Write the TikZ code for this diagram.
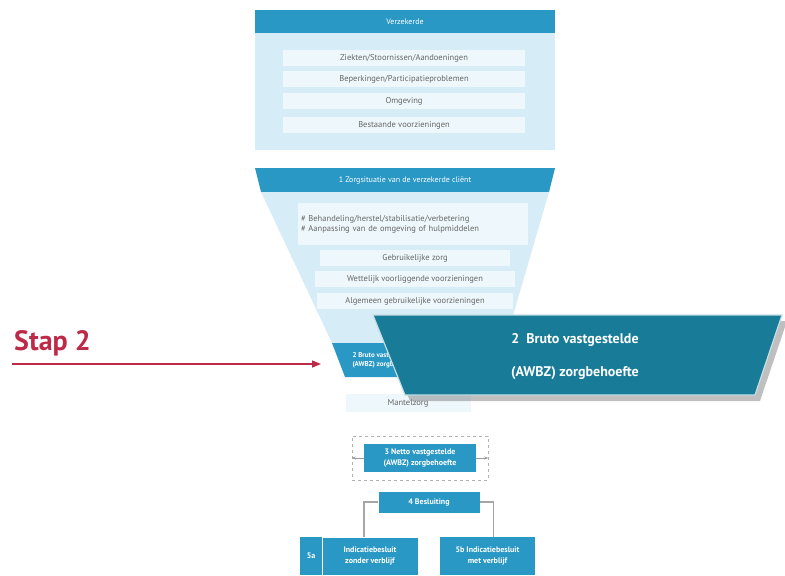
\documentclass[tikz,border=0pt]{standalone}
\usepackage{fontspec}
\setmainfont{PT Sans}
\usetikzlibrary{arrows.meta,shadows,positioning}
\definecolor{kop}{RGB}{42,152,196}
\definecolor{donker}{RGB}{24,124,152}
\definecolor{licht}{RGB}{214,236,246}
\definecolor{rij}{RGB}{238,248,252}
\definecolor{stapkleur}{RGB}{188,42,72}

\tikzset{
  kopbalk/.style={fill=kop, text=white, inner sep=0pt, font=\fontsize{8}{9}\selectfont},
  rijbox/.style={fill=rij, inner sep=0pt, minimum height=16pt, text=black!60, font=\fontsize{8.5}{10}\selectfont},
  blok/.style={fill=kop, text=white, inner sep=0pt, align=center, font=\fontsize{8}{11}\selectfont\bfseries},
  lijn/.style={draw=black!35, line width=1.2pt},
  stappijl/.style={draw=stapkleur, line width=1.4pt, -{Triangle[length=9pt,width=7pt]}},
}

\begin{document}
\begin{tikzpicture}[x=1pt,y=-1pt]
  \useasboundingbox (0,0) rectangle (785,576);

  % Verzekerde
  \node[kopbalk, minimum width=300pt, minimum height=23pt] (verzekerde) at (405,21.5) {Verzekerde};
  \fill[licht] (255,33) rectangle (555,150);
  \node[rijbox, minimum width=242pt] (ziekte) at (404,58) {Ziekten/Stoornissen/Aandoeningen};
  \node[rijbox, minimum width=242pt] (beperking) at (404,79) {Beperkingen/Participatieproblemen};
  \node[rijbox, minimum width=242pt] (omgeving) at (404,101) {Omgeving};
  \node[rijbox, minimum width=242pt] (bestaand) at (404,125) {Bestaande voorzieningen};

  % trechter (stap 1)
  \fill[kop] (255,168) -- (555,168) -- (549,192) -- (261,192) -- cycle;
  \node[text=white, font=\fontsize{8}{9}\selectfont] (zorgsituatie) at (405,180) {1 Zorgsituatie van de verzekerde cliënt};
  \fill[licht] (261,192) -- (549,192) -- (505,343) -- (332,343) -- cycle;
  \node[rijbox, align=left, minimum width=230pt, minimum height=42pt, text width=224pt] (behandeling) at (413,224)
    {\# Behandeling/herstel/stabilisatie/verbetering\\\# Aanpassing van de omgeving of hulpmiddelen};
  \node[rijbox, minimum width=190pt] (gebruikelijk) at (415,258) {Gebruikelijke zorg};
  \node[rijbox, minimum width=200pt] (wettelijk) at (415,279) {Wettelijk voorliggende voorzieningen};
  \node[rijbox, minimum width=196pt] (algemeen) at (415,301) {Algemeen gebruikelijke voorzieningen};

  % stap 2 (klein, achter de vergroting)
  \fill[kop] (332,343) -- (478,343) -- (465,377) -- (345,377) -- cycle;
  \node[text=white, anchor=west, font=\fontsize{7}{9}\selectfont\bfseries, align=left] (brutoklein) at (349,360)
    {2 Bruto vastgestelde\\(AWBZ) zorgbehoefte};

  % mantelzorg
  \node[rijbox, minimum width=125pt, minimum height=18pt] (mantelzorg) at (408,403) {Mantelzorg};

  % stap 2 vergroot
  \fill[donker, draw=white!75!donker, line width=1.2pt,
        drop shadow={shadow xshift=5pt, shadow yshift=-6pt, opacity=0.5}]
    (373,315) -- (782,315) -- (755,395) -- (405,395) -- cycle;
  \node[text=white, align=center, font=\fontsize{14}{33}\selectfont\bfseries] (bruto) at (575,357)
    {2\ \ Bruto vastgestelde\\(AWBZ) zorgbehoefte};

  % Stap 2 met pijl
  \node[text=stapkleur, anchor=south west, inner sep=0pt, font=\fontsize{28}{28}\selectfont\bfseries] (stap) at (14,356) {Stap 2};
  \coordinate (pijlbegin) at (12,364);
  \coordinate (pijleind) at (321,364);
  \draw[stappijl] (pijlbegin) -- (pijleind);

  % stap 3
  \node[draw=black!30, dashed, minimum width=136pt, minimum height=44pt] (kader) at (420,458) {};
  \node[blok, minimum width=112pt, minimum height=28pt] (netto) at (420,458)
    {3 Netto vastgestelde\\(AWBZ) zorgbehoefte};
  \draw[black!40, -{Stealth[length=4pt]}] (netto.west) -- (kader.west);
  \draw[black!40, -{Stealth[length=4pt]}] (netto.east) -- (kader.east);

  % stap 4 en 5
  \node[blok, minimum width=101pt, minimum height=21pt] (besluit) at (429,502) {4 Besluiting};
  \node[blok, minimum width=22pt, minimum height=38pt] (vijfa) at (311,556) {5a};
  \node[blok, draw=white, line width=0.8pt, minimum width=96pt, minimum height=38pt] (zonder) at (370,556)
    {Indicatiebesluit\\zonder verblijf};
  \node[blok, minimum width=95pt, minimum height=38pt] (met) at (487.5,556)
    {5b Indicatiebesluit\\met verblijf};
  \draw[lijn] (besluit.west) -| ([xshift=-6pt]zonder.north);
  \draw[lijn] (besluit.east) -| ([xshift=6pt]met.north);
\end{tikzpicture}
\end{document}
